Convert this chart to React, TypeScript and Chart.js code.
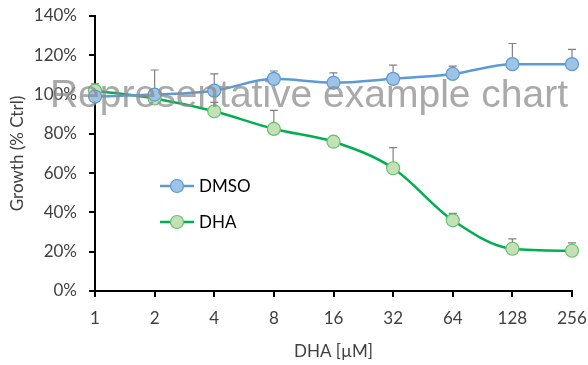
import React, { useEffect, useRef } from "react";
import { Chart, registerables } from "chart.js";

Chart.register(...registerables);

const categories = ["1", "2", "4", "8", "16", "32", "64", "128", "256"];
const dmsoValues = [99, 100, 102, 108, 106, 108, 110.5, 115.5, 115.5];
const dmsoErrors = [3, 12.5, 8.5, 4, 5, 7, 4, 10.5, 7.5];
const dhaValues = [102, 98, 91.5, 82.5, 76, 62.5, 36, 21.5, 20.5];
const dhaErrors = [3.5, 1, 4.5, 9.5, 0, 10.5, 3.5, 5, 4];
const yTicks = [0, 20, 40, 60, 80, 100, 120, 140];

const FONT = "Lato, 'Open Sans', sans-serif";

const errorBarPlugin = {
  id: "errorBars",
  beforeDatasetsDraw(chart: any) {
    const ctx = chart.ctx;
    const y = chart.scales.y;
    const errs = [dmsoErrors, dhaErrors];
    ctx.save();
    ctx.strokeStyle = "#808080";
    ctx.lineWidth = 1.2;
    chart.data.datasets.forEach((ds: any, i: number) => {
      const meta = chart.getDatasetMeta(i);
      meta.data.forEach((pt: any, j: number) => {
        const e = errs[i][j];
        if (!e) return;
        const top = y.getPixelForValue(ds.data[j] + e);
        ctx.beginPath();
        ctx.moveTo(pt.x, pt.y);
        ctx.lineTo(pt.x, top);
        ctx.moveTo(pt.x - 4, top);
        ctx.lineTo(pt.x + 4, top);
        ctx.stroke();
      });
    });
    ctx.restore();
  },
};

const overlayPlugin = {
  id: "overlay",
  afterDraw(chart: any) {
    const ctx = chart.ctx;
    const ca = chart.chartArea;
    ctx.save();
    const items = [
      { label: "DMSO", line: "#5b9bd5", fill: "#9dc3e6", border: "#5b9bd5", dy: 170 },
      { label: "DHA", line: "#00b050", fill: "#c5e0b4", border: "#5fc46f", dy: 206 },
    ];
    items.forEach((it) => {
      const yy = ca.top + it.dy;
      const x0 = ca.left + 65;
      ctx.strokeStyle = it.line;
      ctx.lineWidth = 2.5;
      ctx.beginPath();
      ctx.moveTo(x0, yy);
      ctx.lineTo(x0 + 34, yy);
      ctx.stroke();
      ctx.beginPath();
      ctx.arc(x0 + 17, yy, 6.5, 0, Math.PI * 2);
      ctx.fillStyle = it.fill;
      ctx.fill();
      ctx.lineWidth = 1.2;
      ctx.strokeStyle = it.border;
      ctx.stroke();
      ctx.fillStyle = "#000";
      ctx.font = `17px ${FONT}`;
      ctx.textBaseline = "middle";
      ctx.textAlign = "left";
      ctx.fillText(it.label, x0 + 39, yy + 1);
    });
    ctx.font = "39px 'Liberation Sans', Arial, sans-serif";
    ctx.fillStyle = "rgba(140,140,140,0.75)";
    ctx.textAlign = "center";
    ctx.textBaseline = "middle";
    ctx.fillText("Representative example chart", 309, 96);
    ctx.restore();
  },
};

export default function App() {
  const ref = useRef<HTMLCanvasElement>(null);
  useEffect(() => {
    if (!ref.current) return;
    const chart = new Chart(ref.current, {
      type: "line",
      data: {
        labels: categories,
        datasets: [
          {
            label: "DMSO",
            data: dmsoValues,
            borderColor: "#5b9bd5",
            borderWidth: 2.5,
            pointBackgroundColor: "#9dc3e6",
            pointBorderColor: "#5b9bd5",
            pointBorderWidth: 1.2,
            pointRadius: 6.5,
            tension: 0.4,
            cubicInterpolationMode: "monotone",
          },
          {
            label: "DHA",
            data: dhaValues,
            borderColor: "#00b050",
            borderWidth: 2.5,
            pointBackgroundColor: "#c5e0b4",
            pointBorderColor: "#5fc46f",
            pointBorderWidth: 1.2,
            pointRadius: 6.5,
            tension: 0.4,
            cubicInterpolationMode: "monotone",
          },
        ],
      },
      options: {
        animation: false,
        responsive: false,
        layout: { padding: { left: 0, right: 16, top: 16, bottom: 0 } },
        plugins: { legend: { display: false }, tooltip: { enabled: false } },
        scales: {
          x: {
            type: "category",
            offset: false,
            grid: { display: true, drawOnChartArea: false, drawTicks: true, tickLength: 6, color: "#000", lineWidth: 2 },
            border: { display: true, color: "#000", width: 2 },
            ticks: { color: "#404040", font: { family: FONT, size: 17 }, padding: 11, maxRotation: 0, autoSkip: false },
            title: { display: true, text: "DHA [µM]", color: "#404040", font: { family: FONT, size: 17 }, padding: { top: 6, bottom: 3 } },
            afterFit: (s: any) => { s.height = 74; s.paddingLeft = 0; s.paddingRight = 0; },
          },
          y: {
            min: 0,
            max: 140,
            afterBuildTicks: (s: any) => { s.ticks = yTicks.map((v) => ({ value: v })); },
            grid: { display: true, drawOnChartArea: false, drawTicks: true, tickLength: 6, color: "#000", lineWidth: 2 },
            border: { display: true, color: "#000", width: 2 },
            ticks: { color: "#404040", font: { family: FONT, size: 17 }, padding: 12, callback: (v: any) => `${v}%` },
            title: { display: true, text: "Growth (% Ctrl)", color: "#404040", font: { family: FONT, size: 17 }, padding: { top: 7, bottom: 4 } },
            afterFit: (s: any) => { s.width = 95; s.paddingTop = 0; s.paddingBottom = 0; },
          },
        },
      },
      plugins: [errorBarPlugin, overlayPlugin],
    } as any);
    return () => chart.destroy();
  }, []);
  return (
    <div style={{ position: "absolute", left: 0, top: 0, width: 588, height: 365, background: "#fff" }}>
      <canvas ref={ref} width={588} height={365} style={{ width: 588, height: 365 }} />
    </div>
  );
}
